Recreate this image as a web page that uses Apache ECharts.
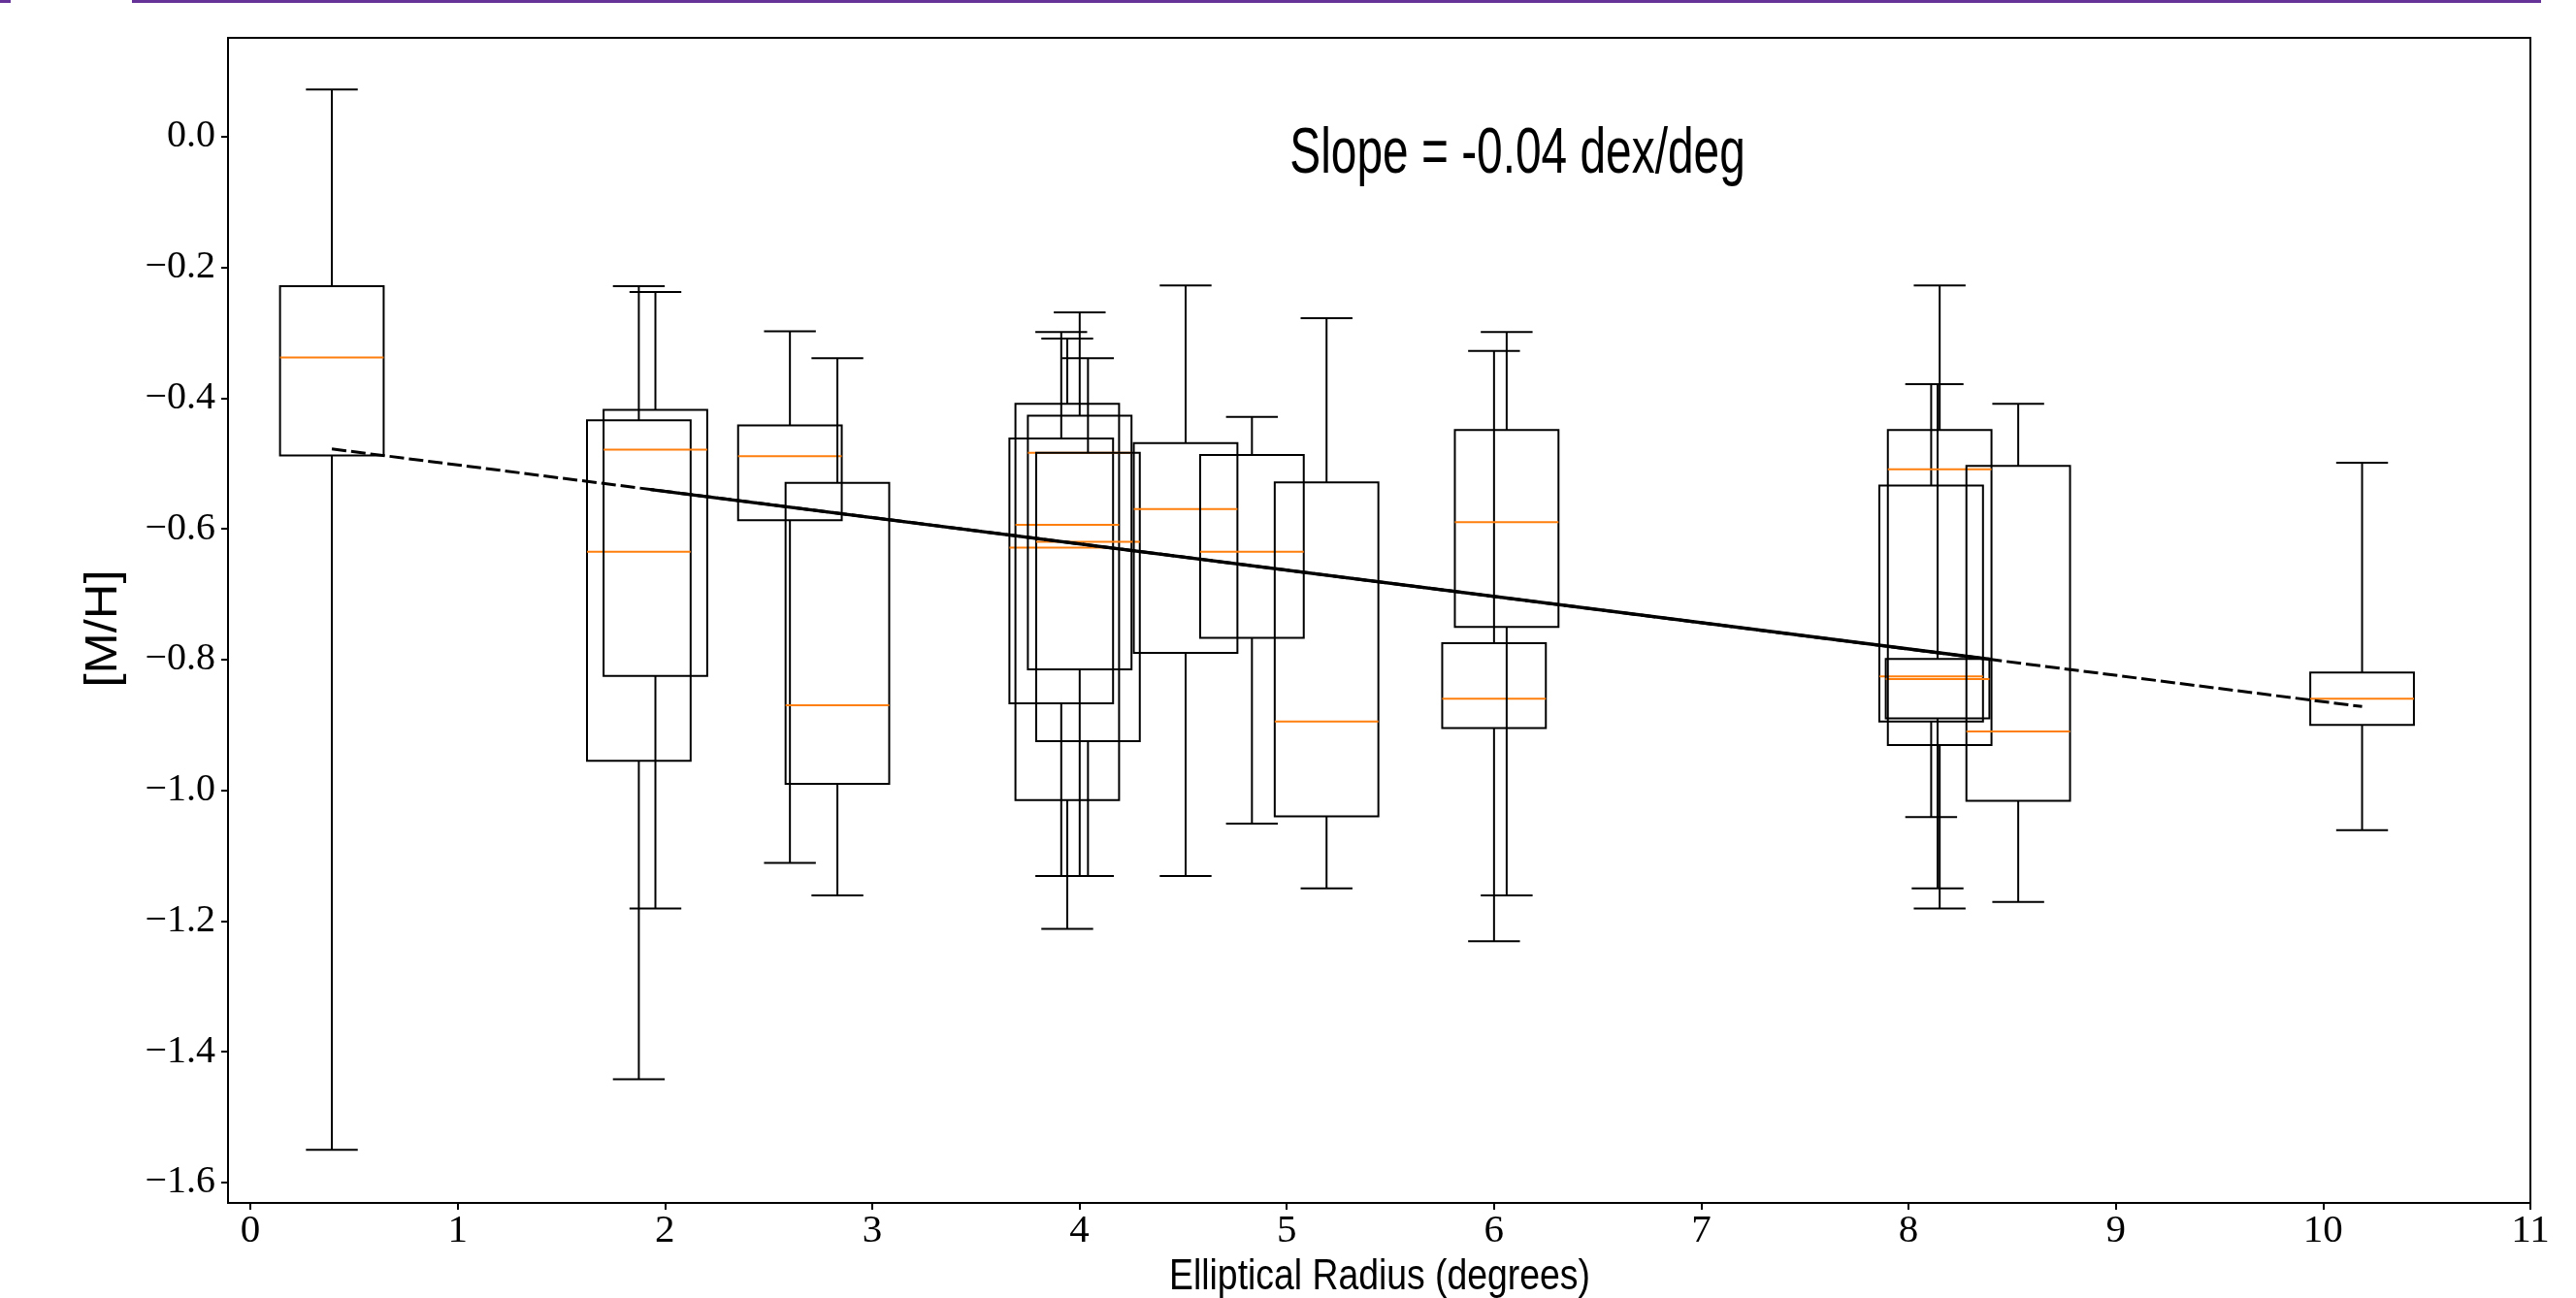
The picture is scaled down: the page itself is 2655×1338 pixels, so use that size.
<!DOCTYPE html>
<html>
<head>
<meta charset="utf-8">
<script src="https://cdn.jsdelivr.net/npm/echarts@6/dist/echarts.min.js"></script>
<style>
html,body{margin:0;padding:0;background:#fff;}
#chart{width:2655px;height:1338px;}
</style>
</head>
<body>
<div id="chart"></div>
<script>
// ---- data ----
const positions   = [0.393, 1.874, 1.954, 2.603, 2.832, 3.912, 3.941, 4.001, 4.041, 4.512, 4.832, 5.192, 6.000, 6.061, 8.109, 8.140, 8.150, 8.529, 10.188];
const whiskerLow  = [-1.550, -1.442, -1.181, -1.111, -1.161, -1.131, -1.212, -1.131, -1.131, -1.131, -1.051, -1.150, -1.231, -1.161, -1.041, -1.150, -1.181, -1.171, -1.061];
const quartile1   = [-0.488, -0.955, -0.825, -0.587, -0.990, -0.867, -1.015, -0.815, -0.925, -0.790, -0.767, -1.040, -0.905, -0.750, -0.895, -0.890, -0.931, -1.016, -0.900];
const medians     = [-0.338, -0.635, -0.479, -0.489, -0.870, -0.629, -0.594, -0.484, -0.620, -0.570, -0.635, -0.895, -0.860, -0.590, -0.826, -0.830, -0.509, -0.910, -0.860];
const quartile3   = [-0.229, -0.434, -0.418, -0.442, -0.530, -0.462, -0.409, -0.427, -0.484, -0.469, -0.487, -0.529, -0.775, -0.449, -0.534, -0.799, -0.449, -0.504, -0.820];
const whiskerHigh = [0.072, -0.229, -0.238, -0.298, -0.339, -0.299, -0.309, -0.269, -0.339, -0.228, -0.429, -0.278, -0.328, -0.299, -0.379, -0.379, -0.228, -0.409, -0.499];

const fitLineX = [0.393, 10.188];
const fitLineY = [-0.478, -0.872];
const fitOverlapX = [1.93, 8.40];
const fitOverlapY = [-0.540, -0.800];

const xTickValues = [0,1,2,3,4,5,6,7,8,9,10,11];
const xTickLabels = ['0','1','2','3','4','5','6','7','8','9','10','11'];
const yTickValues = [-1.6,-1.4,-1.2,-1.0,-0.8,-0.6,-0.4,-0.2,0.0];
const yTickLabels = ['\u22121.6','\u22121.4','\u22121.2','\u22121.0','\u22120.8','\u22120.6','\u22120.4','\u22120.2','0.0'];

const slopeText = 'Slope = -0.04 dex/deg';
const xName = 'Elliptical Radius (degrees)';
const yName = '[M/H]';

// ---- build ----
const boxData = positions.map((p, i) => [p, whiskerLow[i], quartile1[i], medians[i], quartile3[i], whiskerHigh[i]]);
const BOX_W = 0.5, CAP_W = 0.25;

function renderBox(params, api) {
  const x = api.value(0);
  const yLow = api.coord([x, api.value(1)])[1];
  const yQ1 = api.coord([x, api.value(2)])[1];
  const yMed = api.coord([x, api.value(3)])[1];
  const yQ3 = api.coord([x, api.value(4)])[1];
  const yHigh = api.coord([x, api.value(5)])[1];
  const xc = api.coord([x, 0])[0];
  const xl = api.coord([x - BOX_W / 2, 0])[0];
  const xr = api.coord([x + BOX_W / 2, 0])[0];
  const cl = api.coord([x - CAP_W / 2, 0])[0];
  const cr = api.coord([x + CAP_W / 2, 0])[0];
  const blk = {stroke: '#000', lineWidth: 2};
  return {
    type: 'group',
    children: [
      {type: 'line', shape: {x1: xc, y1: yQ1, x2: xc, y2: yLow}, style: blk},
      {type: 'line', shape: {x1: xc, y1: yQ3, x2: xc, y2: yHigh}, style: blk},
      {type: 'line', shape: {x1: cl, y1: yLow, x2: cr, y2: yLow}, style: blk},
      {type: 'line', shape: {x1: cl, y1: yHigh, x2: cr, y2: yHigh}, style: blk},
      {type: 'rect', shape: {x: xl, y: yQ3, width: xr - xl, height: yQ1 - yQ3}, style: {fill: 'none', stroke: '#000', lineWidth: 2}},
      {type: 'line', shape: {x1: xl, y1: yMed, x2: xr, y2: yMed}, style: {stroke: '#ff7f0e', lineWidth: 2}}
    ]
  };
}

const chart = echarts.init(document.getElementById('chart'), null, {renderer: 'canvas'});
const option = {
  backgroundColor: '#ffffff',
  animation: false,
  grid: {left: 235, top: 39, right: 47, bottom: 98, show: true, borderColor: '#000', borderWidth: 2, backgroundColor: 'transparent'},
  xAxis: {
    type: 'value', min: -0.108, max: 11,
    axisLine: {show: true, onZero: false, lineStyle: {color: '#000', width: 2}},
    axisTick: {show: true, inside: false, length: 7, lineStyle: {color: '#000', width: 2}, customValues: xTickValues},
    axisLabel: {show: true, margin: 9, color: '#000', fontFamily: 'Liberation Serif', fontSize: 41,
      customValues: xTickValues, formatter: v => xTickLabels[xTickValues.indexOf(Math.round(v))]},
    splitLine: {show: false}
  },
  yAxis: {
    type: 'value', min: -1.6312, max: 0.1509,
    axisLine: {show: true, onZero: false, lineStyle: {color: '#000', width: 2}},
    axisTick: {show: true, inside: false, length: 7, lineStyle: {color: '#000', width: 2}, customValues: yTickValues},
    axisLabel: {show: true, margin: 13, color: '#000', fontFamily: 'Liberation Serif', fontSize: 40,
      customValues: yTickValues, formatter: v => {
        let best = 0;
        yTickValues.forEach((t, i) => { if (Math.abs(t - v) < Math.abs(yTickValues[best] - v)) best = i; });
        return yTickLabels[best];
      }},
    splitLine: {show: false}
  },
  series: [
    {type: 'custom', renderItem: renderBox, data: boxData, encode: {x: 0, y: [1, 2, 3, 4, 5]}, clip: false, z: 2},
    {type: 'line', data: fitLineX.map((x, i) => [x, fitLineY[i]]), symbol: 'none', z: 3,
      lineStyle: {color: '#000', width: 3, type: [15, 5]}},
    {type: 'line', data: fitOverlapX.map((x, i) => [x, fitOverlapY[i]]), symbol: 'none', z: 3,
      lineStyle: {color: '#000', width: 3.5, type: 'solid'}}
  ],
  graphic: [
    {type: 'rect', shape: {x: 0, y: 0, width: 11, height: 3}, style: {fill: '#663399'}, silent: true},
    {type: 'rect', shape: {x: 136, y: 0, width: 2483, height: 3}, style: {fill: '#663399'}, silent: true},
    {type: 'text', x: 1564, y: 160, scaleX: 0.725,
      style: {text: slopeText, font: '66px "Liberation Sans"', fill: '#000', align: 'center', verticalAlign: 'middle'}},
    {type: 'text', x: 1422, y: 1317, scaleX: 0.83,
      style: {text: xName, font: '45px "Liberation Sans"', fill: '#000', align: 'center', verticalAlign: 'middle'}},
    {type: 'text', x: 107, y: 648, rotation: Math.PI / 2, scaleX: 1.1,
      style: {text: yName, font: '46px "Liberation Sans"', fill: '#000', align: 'center', verticalAlign: 'middle'}}
  ]
};
chart.setOption(option);
</script>
</body>
</html>
